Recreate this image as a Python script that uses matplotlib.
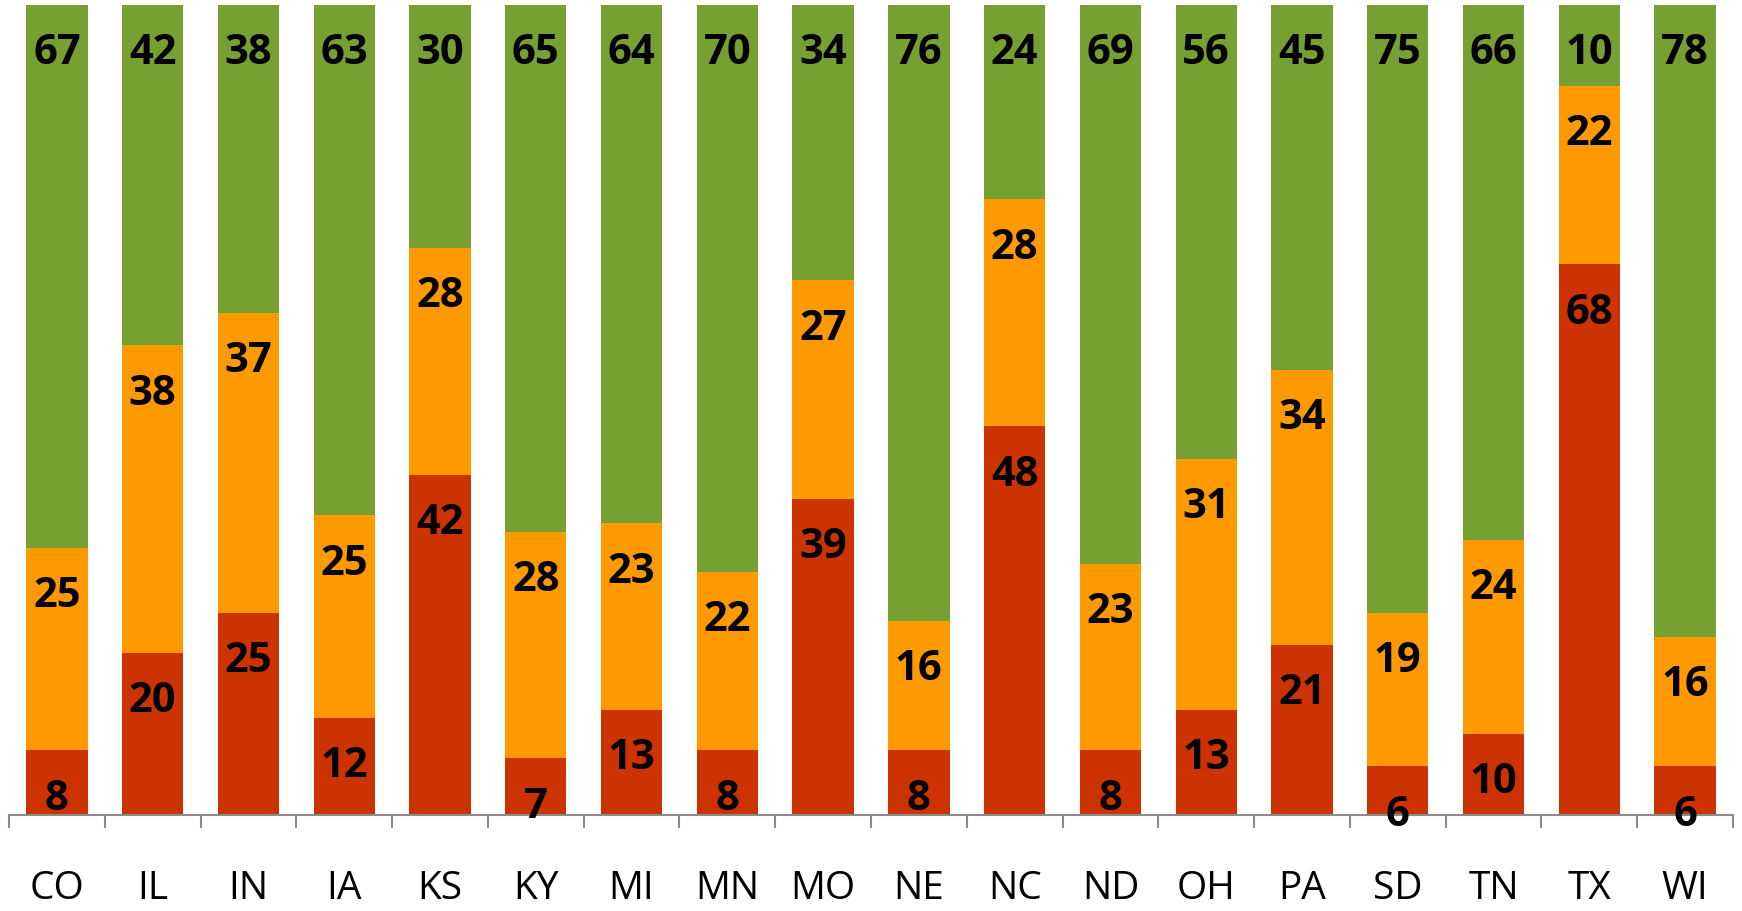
import matplotlib
matplotlib.use("Agg")
import matplotlib.pyplot as plt
import numpy as np

states = ["CO", "IL", "IN", "IA", "KS", "KY", "MI", "MN", "MO",
          "NE", "NC", "ND", "OH", "PA", "SD", "TN", "TX", "WI"]
red = [8, 20, 25, 12, 42, 7, 13, 8, 39, 8, 48, 8, 13, 21, 6, 10, 68, 6]
orange = [25, 38, 37, 25, 28, 28, 23, 22, 27, 16, 28, 23, 31, 34, 19, 24, 22, 16]
green = [67, 42, 38, 63, 30, 65, 64, 70, 34, 76, 24, 69, 56, 45, 75, 66, 10, 78]

colors = ["#CC3300", "#FF9900", "#77A033"]

fig = plt.figure(figsize=(17.42, 9.12), dpi=100)
ax = fig.add_axes([9 / 1742, 96 / 912, 1724 / 1742, 810 / 912])

x = np.arange(len(states))
bottom = np.zeros(len(states))
for vals, col in zip([red, orange, green], colors):
    vals = np.array(vals, dtype=float)
    ax.bar(x, vals, bottom=bottom, width=0.64, color=col, edgecolor="none")
    tops = bottom + vals
    for xi, top, v in zip(x, tops, vals):
        ax.annotate(str(int(v)), (xi, top), xytext=(0, -42),
                    textcoords="offset points", ha="center", va="baseline",
                    fontsize=30, fontweight="bold", family="Open Sans",
                    color="black", annotation_clip=False)
    bottom = tops

ax.set_xlim(-0.5, len(states) - 0.5)
ax.set_ylim(0, 100)
for s in ["top", "right", "left"]:
    ax.spines[s].set_visible(False)
ax.spines["bottom"].set_color("#8C8C8C")
ax.spines["bottom"].set_linewidth(1.5)
ax.set_yticks([])
ax.set_xticks(np.arange(-0.5, len(states), 1.0))
ax.set_xticklabels([])
ax.tick_params(axis="x", length=9, width=1.5, color="#8C8C8C")

# category labels, baseline placed a fixed distance below the axis line
for xi, name in zip(x, states):
    ax.annotate(name, (xi, 0), xycoords=("data", "axes fraction"),
                xytext=(0, -60), textcoords="offset points",
                ha="center", va="baseline", fontsize=28, family="Open Sans",
                annotation_clip=False)

fig.savefig("out.png", dpi=100)
